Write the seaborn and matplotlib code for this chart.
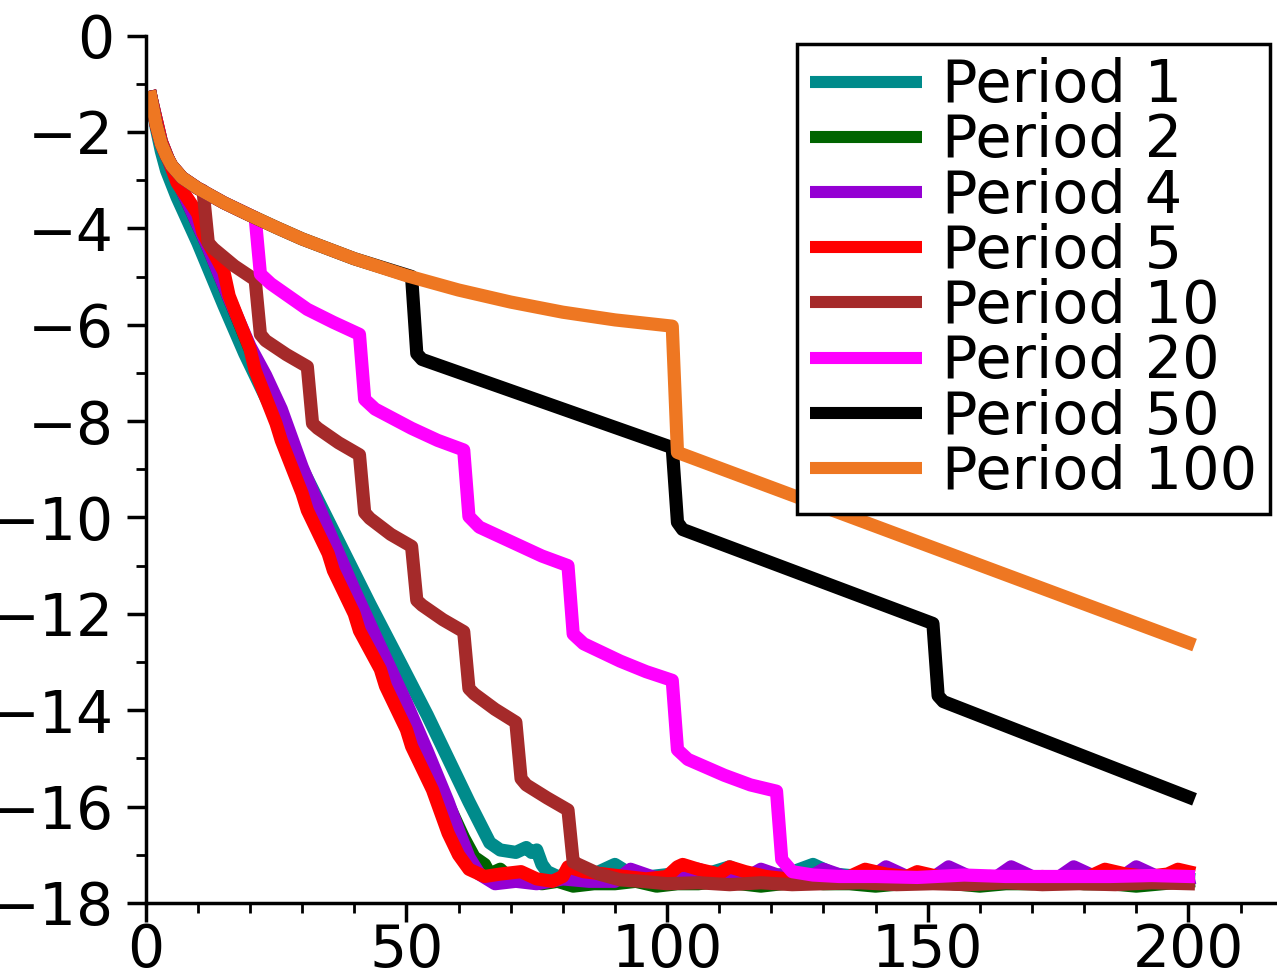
import matplotlib
matplotlib.use("Agg")
import matplotlib.pyplot as plt
import pandas as pd
import seaborn as sns
from matplotlib.ticker import MultipleLocator

# Series labels and colours
labels = ["Period 1", "Period 2", "Period 4", "Period 5",
          "Period 10", "Period 20", "Period 50", "Period 100"]
colors = ["#008B8B", "#006400", "#9400D3", "#FF0000",
          "#A52A2A", "#FF00FF", "#000000", "#EE7722"]

# Period 1
p1_x = [1, 2, 3, 4, 6, 10, 15, 19, 25, 31, 37, 43, 49, 54, 58, 62, 66, 68, 71, 73, 74, 75,
        76, 77, 79, 82, 85, 88, 90, 93, 97, 101, 105, 109, 112, 115, 119, 123, 128, 132,
        137, 142, 147, 152, 157, 162, 167, 172, 177, 182, 187, 192, 196, 200]
p1_y = [-1.28, -1.9, -2.4, -2.8, -3.35, -4.3, -5.6, -6.6, -7.95, -9.2, -10.5, -11.8, -13.05,
        -14.1, -15.0, -15.9, -16.75, -16.9, -16.95, -16.85, -16.95, -16.9, -17.2, -17.35,
        -17.45, -17.4, -17.45, -17.3, -17.2, -17.4, -17.45, -17.4, -17.45, -17.35, -17.25,
        -17.4, -17.45, -17.4, -17.2, -17.4, -17.45, -17.5, -17.45, -17.5, -17.45, -17.5,
        -17.45, -17.5, -17.45, -17.5, -17.45, -17.5, -17.45, -17.5]

# Period 2
p2_x = [1, 3, 5, 8, 12, 16, 20, 24, 30, 36, 40, 45, 50, 54, 58, 61, 63, 65, 66, 68, 70, 73,
        76, 79, 82, 86, 90, 94, 98, 102, 106, 110, 114, 118, 122, 126, 130, 135, 140, 145,
        150, 155, 160, 165, 170, 175, 180, 185, 190, 195, 200]
p2_y = [-1.28, -2.2, -2.75, -3.45, -4.4, -5.45, -6.5, -7.55, -9.05, -10.6, -11.6, -12.85,
        -14.05, -15.0, -15.95, -16.65, -17.05, -17.2, -17.4, -17.3, -17.5, -17.55, -17.6,
        -17.55, -17.65, -17.6, -17.6, -17.55, -17.65, -17.6, -17.6, -17.55, -17.6, -17.65,
        -17.6, -17.55, -17.6, -17.6, -17.65, -17.6, -17.55, -17.6, -17.65, -17.6, -17.6,
        -17.55, -17.6, -17.6, -17.65, -17.6, -17.55]

# Period 4
p4_x = [1, 3, 5, 8, 12, 16, 20, 23, 26, 30, 35, 40, 44, 50, 54, 58, 60, 62, 64, 67, 71, 75,
        80, 85, 90, 93, 97, 102, 106, 110, 114, 118, 122, 126, 130, 134, 138, 142, 146, 150,
        154, 158, 162, 166, 170, 174, 178, 182, 186, 190, 194, 198, 200]
p4_y = [-1.28, -2.2, -2.75, -3.45, -4.4, -5.45, -6.45, -7.05, -7.75, -8.95, -10.25, -11.5,
        -12.45, -13.85, -14.85, -15.9, -16.5, -17.05, -17.4, -17.6, -17.55, -17.6, -17.5,
        -17.55, -17.55, -17.3, -17.45, -17.55, -17.3, -17.45, -17.55, -17.3, -17.45, -17.55,
        -17.3, -17.45, -17.55, -17.25, -17.45, -17.55, -17.25, -17.45, -17.55, -17.25,
        -17.45, -17.55, -17.25, -17.45, -17.55, -17.25, -17.45, -17.55, -17.5]

# Period 5
p5_x = [1, 3, 5, 6, 10, 11, 15, 16, 20, 21, 25, 26, 30, 31, 35, 36, 40, 41, 45, 46, 50, 51,
        55, 56, 58, 60, 62, 65, 68, 72, 75, 78, 80, 81, 84, 88, 92, 96, 100, 102, 103, 106,
        110, 112, 115, 119, 123, 127, 131, 135, 138, 142, 146, 148, 152, 157, 162, 167, 172,
        177, 181, 184, 188, 192, 196, 198, 200]
p5_y = [-1.28, -2.2, -2.75, -3.05, -3.7, -4.1, -4.9, -5.4, -6.5, -6.95, -8.05, -8.4, -9.5,
        -9.85, -10.75, -11.1, -12.0, -12.35, -13.15, -13.5, -14.4, -14.75, -15.65, -15.95,
        -16.55, -17.0, -17.3, -17.45, -17.4, -17.35, -17.5, -17.55, -17.45, -17.25, -17.35,
        -17.4, -17.45, -17.5, -17.45, -17.25, -17.2, -17.3, -17.4, -17.25, -17.35, -17.45,
        -17.5, -17.45, -17.5, -17.45, -17.3, -17.4, -17.45, -17.35, -17.45, -17.5, -17.45,
        -17.5, -17.45, -17.5, -17.45, -17.3, -17.4, -17.45, -17.4, -17.3, -17.35]

# Period 10
p10_x = [1, 2, 3, 4, 5, 7, 10, 11, 12, 13, 17, 21, 22, 23, 27, 31, 32, 33, 37, 41, 42, 43,
         47, 51, 52, 53, 57, 61, 62, 63, 67, 71, 72, 73, 77, 81, 82, 83, 87, 91, 95, 100,
         106, 112, 118, 124, 130, 137, 144, 151, 158, 165, 172, 179, 186, 193, 200]
p10_y = [-1.28, -1.85, -2.25, -2.5, -2.7, -2.95, -3.17, -3.22, -4.3, -4.42, -4.78, -5.07,
         -6.2, -6.33, -6.62, -6.87, -8.05, -8.15, -8.45, -8.7, -9.9, -10.02, -10.35, -10.6,
         -11.72, -11.82, -12.12, -12.37, -13.55, -13.66, -13.98, -14.25, -15.42, -15.55,
         -15.82, -16.07, -17.15, -17.2, -17.4, -17.52, -17.55, -17.6, -17.58, -17.62, -17.58,
         -17.62, -17.6, -17.58, -17.62, -17.6, -17.62, -17.58, -17.62, -17.6, -17.62,
         -17.58, -17.6]

# Period 20
p20_x = [1, 2, 3, 4, 5, 7, 10, 15, 21, 22, 24, 31, 36, 41, 42, 44, 51, 56, 61, 62, 64, 71,
         76, 81, 82, 84, 91, 96, 101, 102, 104, 111, 116, 121, 122, 124, 128, 133, 140, 148,
         157, 165, 175, 185, 193, 200]
p20_y = [-1.28, -1.85, -2.25, -2.5, -2.7, -2.95, -3.17, -3.47, -3.78, -4.95, -5.15, -5.68,
         -5.95, -6.2, -7.55, -7.75, -8.15, -8.4, -8.6, -9.98, -10.2, -10.55, -10.8, -11.0,
         -12.42, -12.62, -12.98, -13.2, -13.38, -14.82, -15.02, -15.35, -15.55, -15.68,
         -17.1, -17.35, -17.42, -17.45, -17.45, -17.47, -17.42, -17.45, -17.45, -17.45,
         -17.43, -17.45]

# Period 50
p50_x = [1, 2, 3, 4, 5, 7, 10, 15, 20, 25, 30, 40, 51, 52, 53, 101, 102, 103, 151, 152, 153, 200]
p50_y = [-1.28, -1.85, -2.25, -2.5, -2.7, -2.95, -3.17, -3.47, -3.73, -3.98, -4.22, -4.63,
         -5.0, -6.6, -6.72, -8.55, -10.1, -10.25, -12.2, -13.7, -13.82, -15.8]

# Period 100
p100_x = [1, 2, 3, 4, 5, 7, 10, 15, 20, 25, 30, 40, 50, 60, 70, 80, 90, 101, 102, 200]
p100_y = [-1.28, -1.85, -2.25, -2.5, -2.7, -2.95, -3.17, -3.47, -3.73, -3.98, -4.22, -4.63,
          -4.98, -5.28, -5.53, -5.74, -5.9, -6.03, -8.65, -12.6]

xs_all = [p1_x, p2_x, p4_x, p5_x, p10_x, p20_x, p50_x, p100_x]
ys_all = [p1_y, p2_y, p4_y, p5_y, p10_y, p20_y, p50_y, p100_y]

df = pd.concat(
    [pd.DataFrame({"iteration": xs, "error": ys, "series": lab})
     for lab, xs, ys in zip(labels, xs_all, ys_all)],
    ignore_index=True,
)

sns.set_theme(style="ticks")
plt.rcParams["font.family"] = ["DejaVu Sans"]
plt.rcParams["text.color"] = "black"

fig = plt.figure(figsize=(12.77, 9.72), dpi=100)
ax = fig.add_axes([0.1141, 0.071, 0.8859, 0.8924])

sns.lineplot(data=df, x="iteration", y="error", hue="series", hue_order=labels,
             palette=dict(zip(labels, colors)), sort=False, estimator=None,
             linewidth=9.5, ax=ax)
for ln in ax.lines:
    ln.set_solid_capstyle("projecting")

ax.set_xlim(0, 217)
ax.set_ylim(-18, 0)
ax.set_xlabel("")
ax.set_ylabel("")

for side in ("top", "right"):
    ax.spines[side].set_visible(False)
for side in ("left", "bottom"):
    ax.spines[side].set_linewidth(2.5)
    ax.spines[side].set_color("black")

ax.xaxis.set_major_locator(MultipleLocator(50))
ax.xaxis.set_minor_locator(MultipleLocator(10))
ax.yaxis.set_major_locator(MultipleLocator(2))
ax.yaxis.set_minor_locator(MultipleLocator(1))
ax.tick_params(which="major", length=14, width=2.5, labelsize=42, direction="out",
               color="black", labelcolor="black")
ax.tick_params(which="minor", length=7, width=2, direction="out", color="black")
ax.tick_params(axis="x", which="major", pad=0)
ax.tick_params(axis="y", which="major", pad=9)

handles, lbls = ax.get_legend_handles_labels()
leg = ax.legend(handles, lbls, loc="upper left", bbox_to_anchor=(0.5757, 0.990),
                borderaxespad=0, fontsize=42.5, frameon=True, fancybox=False,
                edgecolor="black", framealpha=1, handlelength=1.9,
                handletextpad=0.34, labelspacing=-0.03, borderpad=0.22,
                labelcolor="black")
leg.get_frame().set_linewidth(2.5)
for h in leg.get_lines():
    h.set_linewidth(8.7)
    h.set_solid_capstyle("butt")

fig.savefig("out.png", dpi=100)
